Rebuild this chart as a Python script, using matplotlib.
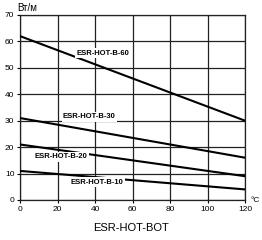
import matplotlib
matplotlib.use("Agg")
import matplotlib.pyplot as plt
import numpy as np

plt.rcParams['font.family'] = ['Liberation Sans', 'DejaVu Sans']

temps = [0, 120]
series = {
    "ESR-HOT-B-60": [62, 30],
    "ESR-HOT-B-30": [31, 16],
    "ESR-HOT-B-20": [21, 9],
    "ESR-HOT-B-10": [11, 4],
}
# label anchor (x, y) in data units
label_pos = {
    "ESR-HOT-B-60": (44, 55.5),
    "ESR-HOT-B-30": (37, 31.5),
    "ESR-HOT-B-20": (22, 16.3),
    "ESR-HOT-B-10": (41, 6.8),
}
xticks = [0, 20, 40, 60, 80, 100, 120]
yticks = [0, 10, 20, 30, 40, 50, 60, 70]

fig = plt.figure(figsize=(2.62, 2.4), dpi=100)
ax = fig.add_axes([0.0763, 0.1667, 0.859, 0.771])

for name, vals in series.items():
    ax.plot(temps, vals, color="black", lw=1.5, zorder=3)
    x, y = label_pos[name]
    ax.text(x, y, name, fontsize=5.5, fontweight="bold", ha="center", va="center",
            zorder=4, bbox=dict(facecolor="white", edgecolor="none", pad=1.0))

ax.set_xlim(0, 120)
ax.set_ylim(0, 70)
ax.set_xticks(xticks)
ax.set_yticks(yticks)
ax.grid(True, color="#222222", lw=0.9)
for s in ax.spines.values():
    s.set_color("#222222")
    s.set_linewidth(0.9)
ax.tick_params(labelsize=6, length=2, width=0.8, pad=2)

fig.text(0.99, 0.165, "°C", fontsize=6, ha="right", va="center")
fig.text(0.065, 0.965, "Вт/м", fontsize=7, ha="left", va="center")
fig.text(0.5, 0.05, "ESR-HOT-BOT", fontsize=8, ha="center", va="center")

fig.savefig("out.png", dpi=100)
